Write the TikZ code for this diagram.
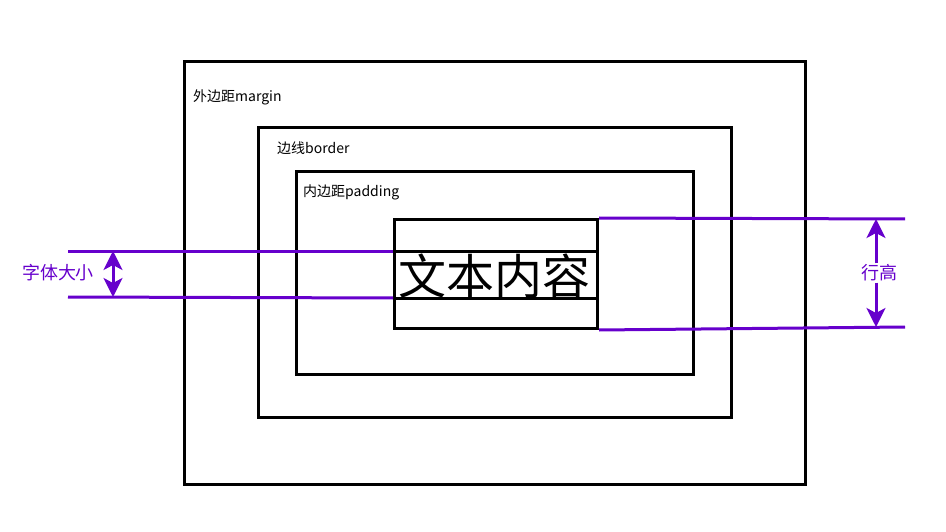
\documentclass[tikz,border=0pt]{standalone}
\usepackage{fontspec}
\setmainfont{Noto Sans CJK SC}
\usepackage{tikz}
\usetikzlibrary{arrows.meta,positioning,calc}
\definecolor{violet}{RGB}{102,0,204}
\tikzset{
  boxline/.style={draw=black,line width=3pt},
  lbl/.style={anchor=west,inner sep=0pt,font=\fontsize{14}{15}\selectfont},
  guide/.style={draw=violet,line width=3pt},
  dim/.style={draw=violet,line width=3pt,-{Stealth[length=19pt,width=19pt,inset=5pt]}},
  dimtext/.style={text=violet,fill=white,inner sep=1pt,font=\fontsize{18}{19}\selectfont},
}
\begin{document}
\begin{tikzpicture}[x=1pt,y=-1pt]
  \useasboundingbox (0,0) rectangle (946,532);
  % nested boxes
  \draw[boxline] (184,62) rectangle (805,484);
  \draw[boxline] (258,128) rectangle (731,417);
  \draw[boxline] (296,172) rectangle (693,374);
  \node[lbl] (margin) at (193,97) {外边距margin};
  \node[lbl] (border) at (277,148) {边线border};
  \node[lbl] (padding) at (303,192) {内边距padding};
  % content box
  \node[boxline,anchor=north west,inner sep=0pt,minimum width=203pt,minimum height=109pt] (content) at (393,218) {};
  \coordinate (top) at (393,251);
  \coordinate (bot) at (393,298);
  \draw[boxline] (top) -- (top -| content.east);
  \draw[boxline] (bot) -- (bot -| content.east);
  \node[inner sep=0pt,font=\fontsize{48}{48}\selectfont] (text) at ($(top)!0.5!(bot)+(101.5,2)$) {文本内容};
  % font size
  \coordinate (fl1) at (68,251);
  \coordinate (fl2) at (68,297);
  \draw[guide] (fl1) -- (top);
  \draw[guide] (fl2) -- (bot);
  \coordinate (fm) at (113,274);
  \draw[dim] (fm) -- (113,251);
  \draw[dim] (fm) -- (113,297);
  \node[dimtext,fill=none] (fsize) at (58,273) {字体大小};
  % line height
  \coordinate (lh1) at (905,219);
  \coordinate (lh2) at (905,327);
  \draw[guide] (content.north east) -- (lh1);
  \draw[guide] (content.south east) -- (lh2);
  \node[dimtext] (lheight) at (879,273) {行高};
  \draw[dim] (lheight.north -| 876,0) -- (876,219);
  \draw[dim] (lheight.south -| 876,0) -- (876,327);
\end{tikzpicture}
\end{document}
